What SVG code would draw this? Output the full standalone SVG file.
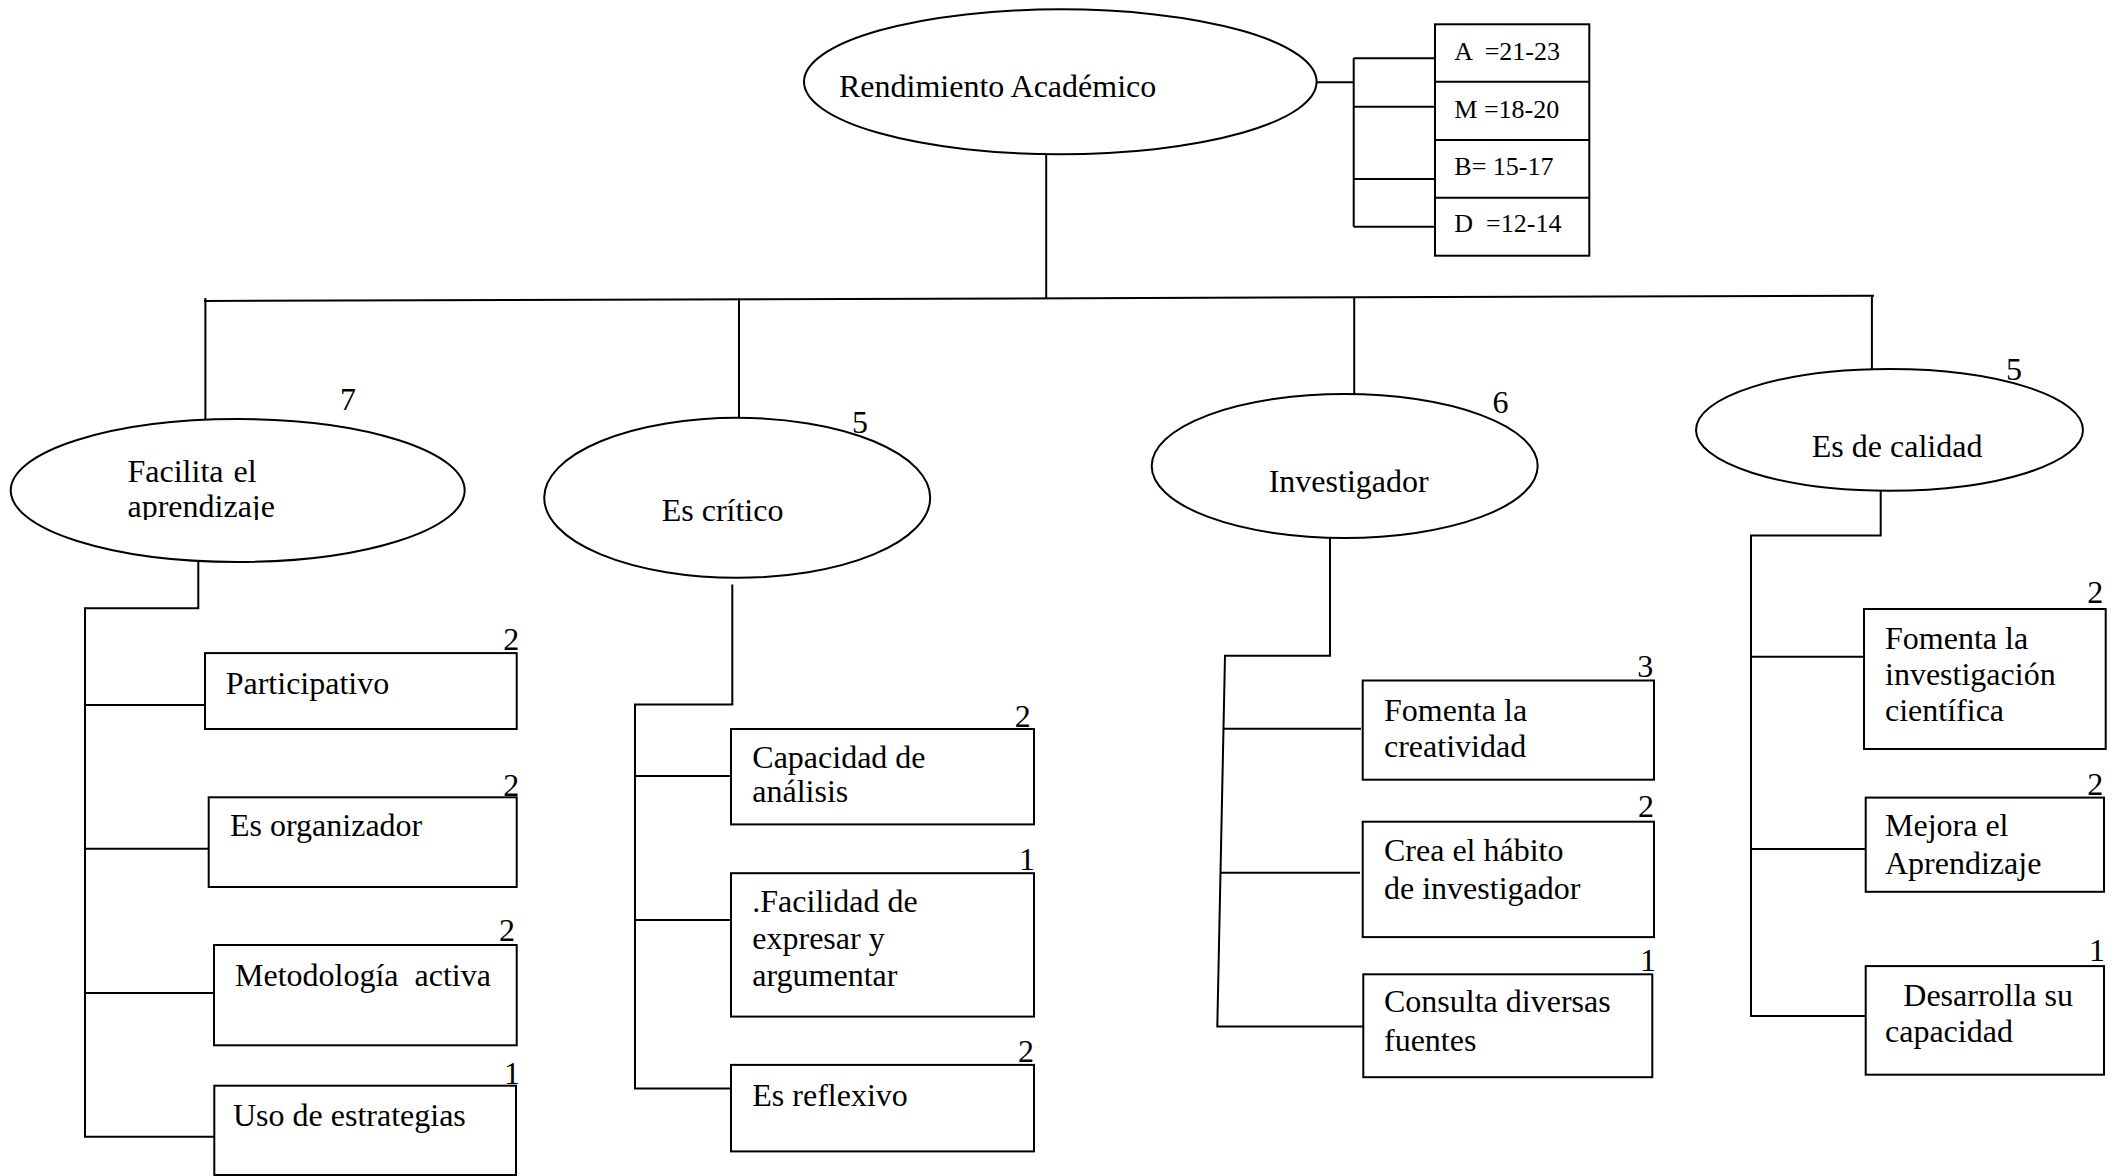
<svg xmlns="http://www.w3.org/2000/svg" width="2112" height="1176" viewBox="0 0 2112 1176">
<style>
.ln{stroke:#000;stroke-width:2;fill:none}
.sh{fill:#fff;stroke:#000;stroke-width:2}
.t{font-family:"Liberation Serif","Times New Roman",serif;font-size:32px;fill:#000}
.lg{font-size:26px}
.n{text-anchor:end}
</style>
<defs>
<clipPath id="clip1"><rect x="0" y="400" width="480" height="120"/></clipPath>
</defs>
<rect x="0" y="0" width="2112" height="1176" fill="#fff"/>
<g id="connectors">
<path class="ln" d="M1317,82.3 H1353.7 M1353.7,58.3 V226.7 M1353.7,58.3 H1435 M1353.7,106.7 H1435 M1353.7,179 H1435 M1353.7,226.7 H1435"/>
<path class="ln" d="M1046.2,154 V298.5"/>
<path class="ln" d="M204,301 L1874,295.7"/>
<path class="ln" d="M205.4,298 V419 M739,298.5 V418 M1354.2,297.5 V394 M1871.9,296 V369.5"/>
<path class="ln" d="M198.3,562 V608.3 H85 V1136.8 H214.3 M85,705 H205 M85,848.8 H208.7 M85,993 H214"/>
<path class="ln" d="M732.3,584.4 V704.6 H635 V1088.5 H731 M635,776.1 H731 M635,919.9 H731"/>
<path class="ln" d="M1330,538 V655.7 H1225 L1217.3,1026.6 H1363.3 M1223.5,728.7 H1361 M1220.5,872.7 H1360"/>
<path class="ln" d="M1880.7,489.4 V535.5 H1751 V1015.9 H1865.7 M1751,656.7 H1864 M1751,849 H1865.7"/>
</g>
<g id="node-rendimiento">
<ellipse class="sh" cx="1060.3" cy="81.8" rx="256.3" ry="72.5"/>
<text class="t" x="839" y="97.3">Rendimiento Académico</text>
</g>
<g id="node-legend">
<rect class="sh" x="1435" y="24.3" width="154.3" height="231.4"/>
<path class="ln" d="M1435,81.7 H1589.3 M1435,140 H1589.3 M1435,197.7 H1589.3"/>
<text class="t lg" x="1454.3" y="60" xml:space="preserve">A  =21-23</text>
<text class="t lg" x="1454.3" y="117.7">M =18-20</text>
<text class="t lg" x="1454.3" y="175">B= 15-17</text>
<text class="t lg" x="1454.3" y="232.3" xml:space="preserve">D  =12-14</text>
</g>
<g id="node-facilita">
<ellipse class="sh" cx="237.7" cy="490.5" rx="227" ry="71.5"/>
<text class="t" x="127.5" y="482.3" word-spacing="2">Facilita el</text>
<text class="t" x="127.5" y="517.3" clip-path="url(#clip1)">aprendizaje</text>
<text class="t n" x="356" y="410">7</text>
</g>
<g id="node-critico">
<ellipse class="sh" cx="737.2" cy="497.8" rx="193" ry="80"/>
<text class="t" x="661.7" y="520.7">Es crítico</text>
<text class="t n" x="868" y="433">5</text>
</g>
<g id="node-investigador">
<ellipse class="sh" cx="1344.7" cy="466" rx="193" ry="72"/>
<text class="t" x="1268.7" y="491.7">Investigador</text>
<text class="t n" x="1508.6" y="412.7">6</text>
</g>
<g id="node-calidad">
<ellipse class="sh" cx="1889.5" cy="429.9" rx="193.5" ry="60.9"/>
<text class="t" x="1811.8" y="456.7">Es de calidad</text>
<text class="t n" x="2022" y="380">5</text>
</g>
<g id="node-participativo">
<rect class="sh" x="205" y="653.1" width="311.7" height="75.9"/>
<text class="t" x="225.7" y="693.6">Participativo</text>
<text class="t n" x="519.3" y="650.4">2</text>
</g>
<g id="node-organizador">
<rect class="sh" x="208.7" y="797.3" width="308" height="89.7"/>
<text class="t" x="230" y="836.2">Es organizador</text>
<text class="t n" x="519.3" y="795.8">2</text>
</g>
<g id="node-metodologia">
<rect class="sh" x="214" y="945" width="302.7" height="100.3"/>
<text class="t" x="235" y="985.5" xml:space="preserve">Metodología  activa</text>
<text class="t n" x="515" y="941.1">2</text>
</g>
<g id="node-estrategias">
<rect class="sh" x="214.3" y="1085.7" width="301.7" height="89.3"/>
<text class="t" x="233" y="1125.5">Uso de estrategias</text>
<text class="t n" x="520" y="1084">1</text>
</g>
<g id="node-capacidad">
<rect class="sh" x="731" y="729" width="303" height="95.4"/>
<text class="t" x="752.3" y="767.5">Capacidad de</text>
<text class="t" x="752.3" y="802.4">análisis</text>
<text class="t n" x="1030.7" y="727">2</text>
</g>
<g id="node-facilidad">
<rect class="sh" x="731" y="873.2" width="303" height="143.4"/>
<text class="t" x="752.3" y="911.7">.Facilidad de</text>
<text class="t" x="752.3" y="949">expresar y</text>
<text class="t" x="752.3" y="986.3">argumentar</text>
<text class="t n" x="1035" y="870.4">1</text>
</g>
<g id="node-reflexivo">
<rect class="sh" x="731" y="1064.9" width="303" height="86.5"/>
<text class="t" x="752.3" y="1106.2">Es reflexivo</text>
<text class="t n" x="1034" y="1062.2">2</text>
</g>
<g id="node-creatividad">
<rect class="sh" x="1362.7" y="680.5" width="291.3" height="99.2"/>
<text class="t" x="1384" y="720.8">Fomenta la</text>
<text class="t" x="1384" y="757.3">creatividad</text>
<text class="t n" x="1653.3" y="677.1">3</text>
</g>
<g id="node-habito">
<rect class="sh" x="1362.7" y="821.7" width="291.3" height="115.4"/>
<text class="t" x="1384" y="860.6">Crea el hábito</text>
<text class="t" x="1384" y="898.5">de investigador</text>
<text class="t n" x="1654" y="816.5">2</text>
</g>
<g id="node-consulta">
<rect class="sh" x="1363.3" y="974.3" width="289" height="102.9"/>
<text class="t" x="1384" y="1011.8">Consulta diversas</text>
<text class="t" x="1384" y="1050.7">fuentes</text>
<text class="t n" x="1656" y="970.8">1</text>
</g>
<g id="node-investigacion">
<rect class="sh" x="1864" y="609" width="241.7" height="140"/>
<text class="t" x="1885" y="648.6">Fomenta la</text>
<text class="t" x="1885" y="685.3">investigación</text>
<text class="t" x="1885" y="721.2">científica</text>
<text class="t n" x="2103.3" y="602.9">2</text>
</g>
<g id="node-mejora">
<rect class="sh" x="1865.7" y="797.6" width="238.3" height="94.2"/>
<text class="t" x="1885" y="836.3">Mejora el</text>
<text class="t" x="1885" y="874.3">Aprendizaje</text>
<text class="t n" x="2103.3" y="794.7">2</text>
</g>
<g id="node-desarrolla">
<rect class="sh" x="1865.7" y="966.1" width="238.3" height="108.6"/>
<text class="t" x="1903.3" y="1005.7">Desarrolla su</text>
<text class="t" x="1885" y="1041.6">capacidad</text>
<text class="t n" x="2105" y="961.2">1</text>
</g>
</svg>
